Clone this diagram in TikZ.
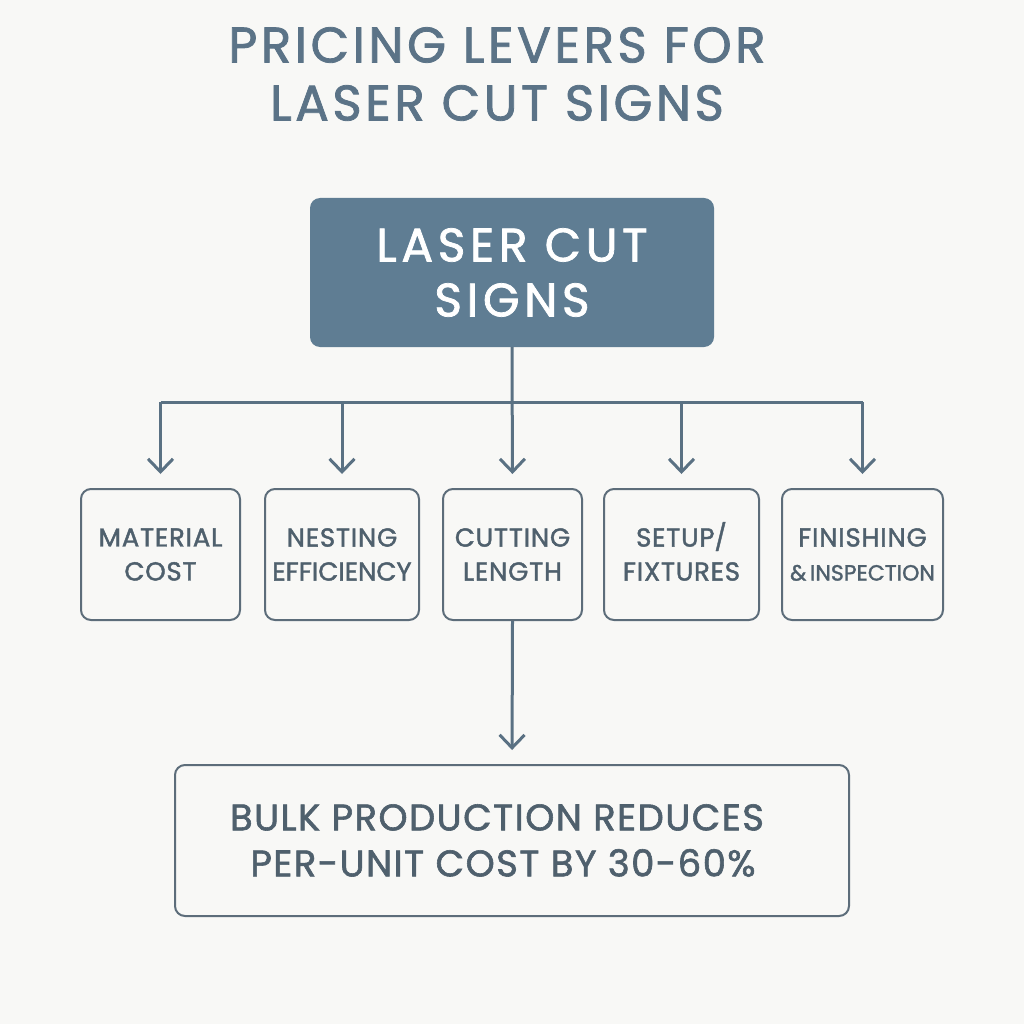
\documentclass[tikz,border=0pt]{standalone}
\usepackage{fontspec}
\setmainfont{Poppins}[RawFeature={embolden=1.6}]
\usetikzlibrary{arrows.meta}

\definecolor{paper}{HTML}{F8F8F6}
\definecolor{titlec}{HTML}{5B7387}
\definecolor{headc}{HTML}{5F7D93}
\definecolor{linkc}{HTML}{5A7183}
\definecolor{framec}{HTML}{5D6D7A}
\definecolor{leverc}{HTML}{4F606D}

\begin{document}
\begin{tikzpicture}[x=1pt,y=-1pt,
    lever/.style={draw=framec, line width=2pt, rounded corners=10pt, fill=paper,
        minimum height=131pt, text=leverc, align=center, inner sep=0pt,
        font=\fontsize{26}{34}\selectfont\addfontfeatures{LetterSpace=3}},
    link/.style={draw=linkc, line width=3pt},
    tipped/.style={-{Straight Barb[length=13pt,width=25pt]}, shorten >=14pt}]
    \fill[paper] (0,0) rectangle (1024,1024);

    % title
    \node[text=titlec, align=center,
        font=\fontsize{50}{58}\selectfont\addfontfeatures{LetterSpace=7}] (title) at (497,74)
        {PRICING LEVERS FOR\\LASER CUT SIGNS};

    % main box
    \node[fill=headc, rounded corners=10pt, minimum width=404pt, minimum height=149pt,
        text=white, align=center,
        font=\fontsize{47}{55}\selectfont\addfontfeatures{LetterSpace=10}] (signs) at (512,272.5)
        {LASER CUT\\SIGNS};

    % levers
    \node[lever, minimum width=159pt] (material) at (160.5,554.5) {MATERIAL\\COST};
    \node[lever, minimum width=154pt] (nesting) at (342,554.5)
        {NESTING\\{\addfontfeatures{LetterSpace=0}EFFICIENCY}};
    \node[lever, minimum width=139pt] (cutting) at (512.5,554.5) {CUTTING\\LENGTH};
    \node[lever, minimum width=155pt] (setup) at (681.5,554.5) {SETUP\smash{/}\\FIXTURES};
    \node[lever, minimum width=161pt] (finishing) at (862.5,554.5)
        {FINISHING\\{\fontsize{22}{34}\selectfont\addfontfeatures{LetterSpace=0} \&\,INSPECTION}};

    % bulk box
    \node[draw=framec, line width=2pt, rounded corners=10pt, minimum width=674pt,
        minimum height=151pt, text=leverc, align=center,
        font=\fontsize{37}{46}\selectfont\addfontfeatures{LetterSpace=4}] (bulk) at (512,840.5)
        {BULK PRODUCTION REDUCES\hspace*{30pt}\\PER-UNIT COST BY 30-60\%\hspace*{18pt}};

    \coordinate (hub) at (512,402);

    % connectors
    \draw[link, tipped] (signs.south) -- (cutting.north);
    \draw[link] (material.north |- hub) -- (finishing.north |- hub);
    \draw[link, tipped] (material.north |- hub) -- (material.north);
    \draw[link, tipped] (nesting.north |- hub) -- (nesting.north);
    \draw[link, tipped] (setup.north |- hub) -- (setup.north);
    \draw[link, tipped] (finishing.north |- hub) -- (finishing.north);
    \draw[link, tipped] (cutting.south) -- (bulk.north);
\end{tikzpicture}
\end{document}
